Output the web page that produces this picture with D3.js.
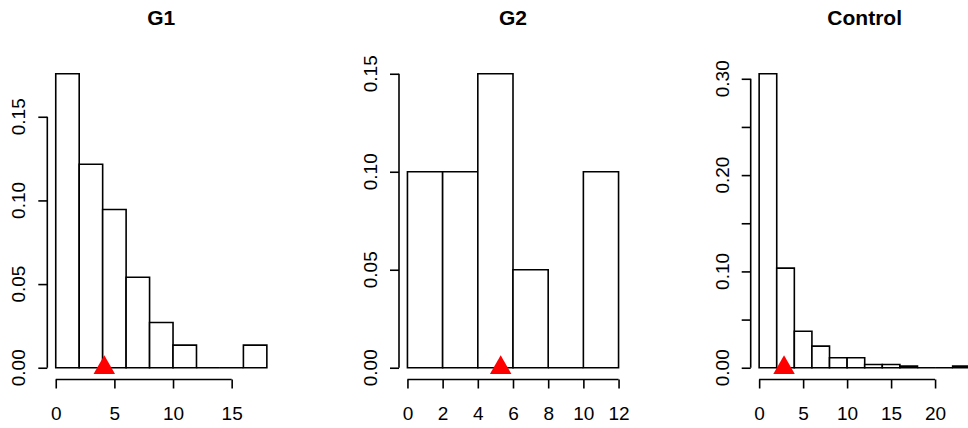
<!DOCTYPE html>
<html>
<head>
<meta charset="utf-8">
<script src="https://cdn.jsdelivr.net/npm/d3@7"></script>
<style>
    body { margin: 0; background: #fff; }
    svg { display: block; font-family: "Liberation Sans", Arial, sans-serif; }
</style>
</head>
<body>
<svg width="968" height="428"></svg>
<script>
// histogram densities, one set per group
const g1Breaks = [0, 2, 4, 6, 8, 10, 12, 14, 16, 18];
const g1Density = [0.1757, 0.1216, 0.0946, 0.0541, 0.0270, 0.0135, 0, 0, 0.0135];
const g1XTicks = [0, 5, 10, 15];
const g1YTicks = [0, 0.05, 0.10, 0.15];

const g2Breaks = [0, 2, 4, 6, 8, 10, 12];
const g2Density = [0.10, 0.10, 0.15, 0.05, 0, 0.10];
const g2XTicks = [0, 2, 4, 6, 8, 10, 12];
const g2YTicks = [0, 0.05, 0.10, 0.15];

const ctrlBreaks = [0, 2, 4, 6, 8, 10, 12, 14, 16, 18, 20, 22, 24];
const ctrlDensity = [0.3052, 0.1034, 0.0379, 0.0224, 0.0103, 0.0103, 0.0034, 0.0034, 0.0017, 0, 0, 0.0017];
const ctrlXTicks = [0, 5, 10, 15, 20];
const ctrlYTicks = [0, 0.05, 0.10, 0.15, 0.20, 0.25, 0.30];
const ctrlYLabels = [0, 0.10, 0.20, 0.30];

const titles = ['G1', 'G2', 'Control'];
const means = [4.14, 5.3, 2.83];

const panels = [
    {breaks: g1Breaks, density: g1Density, xTicks: g1XTicks, yTicks: g1YTicks, yLabels: g1YTicks},
    {breaks: g2Breaks, density: g2Density, xTicks: g2XTicks, yTicks: g2YTicks, yLabels: g2YTicks},
    {breaks: ctrlBreaks, density: ctrlDensity, xTicks: ctrlXTicks, yTicks: ctrlYTicks, yLabels: ctrlYLabels}
];

const svg = d3.select('svg');

const panelWidth = 351.7,
    plotLeft = 47.3,
    plotWidth = 228,
    plotTop = 62,
    plotBottom = 379.5,
    tickLen = 9;

panels.forEach((p, i) => {
    const x0 = plotLeft + i * panelWidth;
    const bMin = d3.min(p.breaks), bMax = d3.max(p.breaks);
    const xPad = (bMax - bMin) * 0.04;
    const yMax = d3.max(p.density);

    const x = d3.scaleLinear()
        .domain([bMin - xPad, bMax + xPad])
        .range([x0, x0 + plotWidth]);
    const y = d3.scaleLinear()
        .domain([-yMax * 0.04, yMax * 1.04])
        .range([plotBottom, plotTop]);

    const g = svg.append('g').attr('class', 'panel');

    g.append('text')
        .attr('x', x0 + plotWidth / 2)
        .attr('y', 25)
        .attr('text-anchor', 'middle')
        .style('font-weight', 'bold')
        .style('font-size', '21px')
        .text(titles[i]);

    // bars as closed paths so empty bins still show a line at 0
    g.append('g')
        .selectAll('path')
        .data(p.density)
        .enter()
        .append('path')
        .attr('d', (d, j) => {
            const l = x(p.breaks[j]), r = x(p.breaks[j + 1]);
            return `M${l},${y(0)}V${y(d)}H${r}V${y(0)}Z`;
        })
        .attr('fill', 'white')
        .attr('stroke', 'black')
        .attr('stroke-width', 1.6);

    // x axis, R style: line spans first to last tick
    const xAxis = g.append('g')
        .attr('transform', `translate(0,${plotBottom})`)
        .call(d3.axisBottom(x)
            .tickValues(p.xTicks)
            .tickSize(tickLen)
            .tickPadding(18)
            .tickFormat(d3.format('d')));
    xAxis.select('.domain').remove();
    xAxis.append('line')
        .attr('x1', x(p.xTicks[0]))
        .attr('x2', x(p.xTicks[p.xTicks.length - 1]))
        .attr('stroke', 'black');
    xAxis.selectAll('line').attr('stroke-width', 1.6);
    xAxis.selectAll('text')
        .attr('fill', 'black')
        .style('font-size', '19px')
        .style('font-family', '"Liberation Sans", Arial, sans-serif');

    // y axis
    const yAxis = g.append('g')
        .attr('transform', `translate(${x0},0)`)
        .call(d3.axisLeft(y)
            .tickValues(p.yTicks)
            .tickSize(tickLen)
            .tickFormat(''));
    yAxis.select('.domain').remove();
    yAxis.append('line')
        .attr('y1', y(p.yTicks[0]))
        .attr('y2', y(p.yTicks[p.yTicks.length - 1]))
        .attr('stroke', 'black');
    yAxis.selectAll('line').attr('stroke-width', 1.6);

    g.append('g')
        .selectAll('text')
        .data(p.yLabels)
        .enter()
        .append('text')
        .attr('transform', d => `translate(${x0 - 22},${y(d)}) rotate(-90)`)
        .attr('text-anchor', 'middle')
        .style('font-size', '19px')
        .text(d3.format('.2f'));

    // mean marker
    g.append('path')
        .attr('d', d3.symbol(d3.symbolTriangle, 200))
        .attr('transform', `translate(${x(means[i])},${y(0)})`)
        .attr('fill', 'red');
});
</script>
</body>
</html>
